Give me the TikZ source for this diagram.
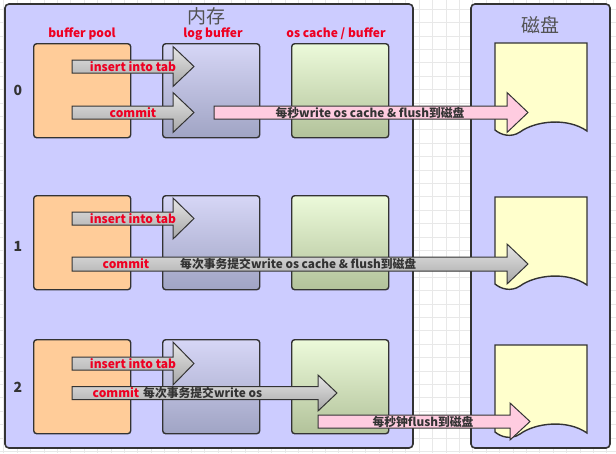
\documentclass[tikz,border=0pt]{standalone}
\usepackage{fontspec}
\newfontfamily\cjk{Noto Sans CJK SC}
\usetikzlibrary{shadings}
\definecolor{memfill}{HTML}{CCCCFF}
\definecolor{edge}{HTML}{333333}
\definecolor{peach}{HTML}{FFCC99}
\definecolor{logtop}{HTML}{D6D6F6}
\definecolor{logbot}{HTML}{A0A4C4}
\definecolor{ostop}{HTML}{ECFADA}
\definecolor{osbot}{HTML}{B2C29A}
\definecolor{docfill}{HTML}{FFFFCC}
\definecolor{pinkfill}{HTML}{FFCCE0}
\definecolor{redtxt}{HTML}{EE0022}
\definecolor{darktxt}{HTML}{333333}
\definecolor{gridc}{HTML}{E8E8E8}
\definecolor{arrtop}{HTML}{E6E6E6}
\definecolor{arrbot}{HTML}{A6A6A6}
\tikzset{
  region/.style={draw=edge,line width=1.6pt,fill=memfill,rounded corners=4pt},
  colbox/.style={draw=edge,line width=1.4pt,rounded corners=3pt,inner sep=0pt,minimum width=97pt,minimum height=94pt,anchor=north west},
  bpbox/.style={colbox,fill=peach},
  lbbox/.style={colbox,top color=logtop,bottom color=logbot},
  osbox/.style={colbox,top color=ostop,bottom color=osbot},
  docshape/.style={draw=edge,line width=1.4pt,fill=docfill},
  grayarrow/.style={draw=edge,line width=1pt,top color=arrtop,bottom color=arrbot},
  pinkarrow/.style={draw=edge,line width=1pt,fill=pinkfill},
  redlab/.style={text=redtxt,font=\cjk\bfseries\fontsize{12}{14}\selectfont,inner sep=0pt},
  darklab/.style={text=darktxt,font=\cjk\bfseries\fontsize{11.8}{14}\selectfont,inner sep=0pt},
  headlab/.style={text=redtxt,font=\cjk\bfseries\fontsize{12}{14}\selectfont,inner sep=0pt},
  titlelab/.style={text=darktxt!85,font=\cjk\fontsize{19}{22}\selectfont,inner sep=0pt},
  rowlab/.style={text=darktxt,font=\cjk\bfseries\fontsize{14}{16}\selectfont,inner sep=0pt}
}
% block arrow: #1 style, #2 start x, #3 head base x, #4 tip x, #5 centre y, #6 shaft half, #7 head half
\newcommand\blockarr[7]{%
  \path[#1] (#2,#5-#6) -- (#3,#5-#6) -- (#3,#5-#7) -- (#4,#5) -- (#3,#5+#7) -- (#3,#5+#6) -- (#2,#5+#6) -- cycle;}
% document: #1 left x, #2 top y
\newcommand\docum[2]{%
  \path[docshape] (#1,#2) -- (#1+92,#2) -- (#1+92,#2+88)
    .. controls (#1+72,#2+74) and (#1+40,#2+78) .. (#1+25,#2+89)
    .. controls (#1+16,#2+95) and (#1+6,#2+92) .. (#1,#2+87) -- cycle;}
\begin{document}
\begin{tikzpicture}[x=1pt,y=-1pt]
\useasboundingbox (0,0) rectangle (616,453);
\fill[white] (0,0) rectangle (616,453);
\foreach \i in {0,...,46} {\draw[gridc,line width=0.6pt] (3.6+13.4*\i,0) -- (3.6+13.4*\i,453);}
\foreach \i in {0,...,34} {\draw[gridc,line width=0.6pt] (0,-4.4+13.4*\i) -- (616,-4.4+13.4*\i);}
% regions
\path[region] (5,4) rectangle (413,448);
\path[region] (471,4) rectangle (610,448);
\node[titlelab] (memt) at (206,16) {内存};
\node[titlelab] (diskt) at (540,25) {磁盘};
% headers
\node[headlab] (hbp) at (82,34) {buffer pool};
\node[headlab] (hlb) at (213,34) {log buffer};
\node[headlab] (hos) at (336,34) {os cache / buffer};
% row labels
\node[rowlab] (r0) at (18,90) {0};
\node[rowlab] (r1) at (18,246) {1};
\node[rowlab] (r2) at (18,387) {2};
% boxes
\foreach \r/\y in {0/43,1/195,2/339} {
  \node[bpbox] (bp\r) at (33,\y) {};
  \node[lbbox] (lb\r) at (162,\y) {};
  \node[osbox] (os\r) at (291,\y) {};
}
% disk documents
\docum{495}{43}
\docum{495}{197}
\docum{495}{345}
% row 0
\blockarr{grayarrow}{72}{173}{194}{66.5}{6.5}{20}
\blockarr{grayarrow}{72}{173}{194}{112.5}{6.5}{20}
\blockarr{pinkarrow}{214}{507}{528}{112.5}{6.5}{20}
\node[redlab] (i0) at (133,67) {insert into tab};
\node[redlab] (c0) at (133,113) {commit};
\node[darklab] (w0) at (370,113) {每秒write os cache \& flush到磁盘};
% row 1
\blockarr{grayarrow}{72}{173}{194}{218.5}{6.5}{20.5}
\blockarr{grayarrow}{72}{507}{528}{264}{7}{20}
\node[redlab] (i1) at (133,219) {insert into tab};
\node[redlab] (c1) at (126,264) {commit};
\node[darklab,anchor=west] (w1) at (180,264) {每次事务提交write os cache \& flush到磁盘};
% row 2
\blockarr{grayarrow}{72}{173}{194}{363.5}{6.5}{21.5}
\blockarr{grayarrow}{72}{318}{337}{393}{6.5}{18}
\blockarr{pinkarrow}{318}{510}{530}{421.5}{6.5}{18.5}
\node[redlab] (i2) at (133,364) {insert into tab};
\node[redlab] (c2) at (116,393) {commit};
\node[darklab,anchor=west] (w2) at (143,393) {每次事务提交write os};
\node[darklab] (f2) at (423,422) {每秒钟flush到磁盘};
\end{tikzpicture}
\end{document}
